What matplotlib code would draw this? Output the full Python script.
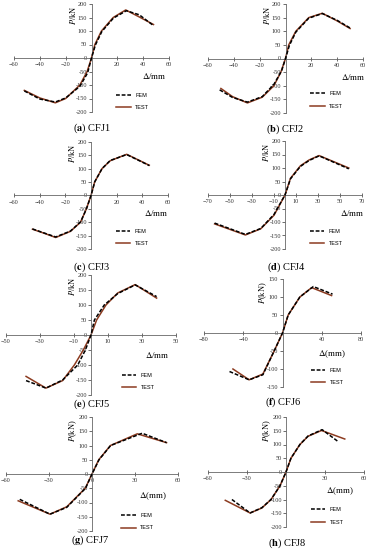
import matplotlib.pyplot as plt

plt.rcParams['font.family'] = 'Liberation Serif'
plt.rcParams['mathtext.fontset'] = 'stix'

# skeleton curves: displacement (mm), load (kN)
cfj1_test_x = [-52, -40, -28, -20, -9, -3.4, 0, 2.6, 7.7, 16.8, 26.5, 37, 48]
cfj1_test_y = [-120, -148, -166, -150, -100, -50, 0, 50, 100, 150, 178, 152, 124]
cfj1_fem_x = [-52, -40, -28, -20, -9, -3, 0, 3, 8, 17, 27, 37, 48]
cfj1_fem_y = [-122, -152, -163, -148, -105, -55, 0, 48, 98, 148, 175, 160, 120]

cfj2_test_x = [-50, -41, -29.5, -18, -9, -3.6, 0, 2.5, 8, 18, 28.5, 40, 50]
cfj2_test_y = [-110, -140, -163, -142, -100, -50, 0, 50, 100, 150, 166, 138, 110]
cfj2_fem_x = [-51, -41, -29.5, -18, -9, -3, 0, 3, 8, 18, 28.5, 40, 50]
cfj2_fem_y = [-115, -143, -160, -140, -95, -45, 0, 48, 97, 148, 165, 140, 112]

cfj3_test_x = [-45.6, -36, -27.5, -16, -8.2, -3.6, 0, 2.8, 8.5, 15, 27.8, 36, 45.4]
cfj3_test_y = [-126, -142, -157, -134, -100, -50, 0, 50, 100, 130, 154, 135, 113]
cfj3_fem_x = [-45.6, -36, -27.5, -16, -8, -3.4, 0, 3, 8.7, 15, 27.8, 36, 45.4]
cfj3_fem_y = [-125, -141, -155, -133, -98, -48, 0, 52, 101, 131, 153, 134, 112]

cfj4_test_x = [-64, -36, -22, -10, 0, 5, 14, 22, 31, 58]
cfj4_test_y = [-107, -148, -125, -75, 0, 62, 108, 130, 146, 100]
cfj4_fem_x = [-64, -36, -22, -10, 0, 5, 14, 22, 31, 58]
cfj4_fem_y = [-104, -146, -124, -72, 0, 60, 106, 128, 145, 97]

cfj5_test_x = [-38.2, -26.5, -16.7, -9.8, -4.5, 0, 3.3, 8.8, 15.7, 26, 38.6]
cfj5_test_y = [-138, -177, -152, -100, -50, 0, 50, 100, 140, 168, 123]
cfj5_fem_x = [-38.2, -26.5, -16.7, -7.8, -3.3, 0, 2, 4.9, 7.8, 15.7, 26, 38.6]
cfj5_fem_y = [-152, -177, -150, -100, -50, 0, 50, 75, 100, 138, 167, 128]

cfj6_test_x = [-50.5, -34, -20, -8.5, 0, 5.8, 17.7, 29.7, 50]
cfj6_test_y = [-100, -130, -114, -50, 0, 50, 100, 126, 104]
cfj6_fem_x = [-54, -34, -20, -8.5, 0, 5.8, 17.7, 31.4, 51]
cfj6_fem_y = [-107, -130, -116, -50, 0, 50, 100, 129, 108]

cfj7_test_x = [-51.5, -29.3, -17.6, -4.7, 0, 4.7, 12.9, 31.6, 52]
cfj7_test_y = [-94, -141, -115, -50, 0, 50, 100, 141, 110]
cfj7_fem_x = [-50.4, -29.3, -17.6, -4.5, 0, 4.9, 13, 35, 52]
cfj7_fem_y = [-89, -141, -117, -50, 0, 50, 100, 143, 110]

cfj8_test_x = [-46.7, -27.6, -18.6, -11.5, -4.6, 0, 3.8, 10.7, 17, 27.3, 45.2]
cfj8_test_y = [-103, -149, -131, -100, -50, 0, 50, 100, 130, 151, 120]
cfj8_fem_x = [-41.6, -27.6, -18.6, -11.5, -4.6, 0, 3.8, 10.7, 17, 27.8, 40]
cfj8_fem_y = [-100, -149, -130, -100, -50, 0, 50, 100, 131, 154, 111]

captions = ['a', 'b', 'c', 'd', 'e', 'f', 'g', 'h']
names = ['CFJ1', 'CFJ2', 'CFJ3', 'CFJ4', 'CFJ5', 'CFJ6', 'CFJ7', 'CFJ8']
xticks = [[-60, -40, -20, 20, 40, 60]] * 3 + [[-70, -50, -30, -10, 10, 30, 50, 70]] + \
         [[-50, -30, -10, 10, 30, 50], [-80, -40, 40, 80], [-60, -30, 0, 30, 60], [-60, -30, 30, 60]]
yticks = [list(range(-200, 201, 50))] * 5 + [list(range(-150, 151, 50))] + [list(range(-200, 201, 50))] * 2

tests = [(cfj1_test_x, cfj1_test_y), (cfj2_test_x, cfj2_test_y), (cfj3_test_x, cfj3_test_y),
         (cfj4_test_x, cfj4_test_y), (cfj5_test_x, cfj5_test_y), (cfj6_test_x, cfj6_test_y),
         (cfj7_test_x, cfj7_test_y), (cfj8_test_x, cfj8_test_y)]
fems = [(cfj1_fem_x, cfj1_fem_y), (cfj2_fem_x, cfj2_fem_y), (cfj3_fem_x, cfj3_fem_y),
        (cfj4_fem_x, cfj4_fem_y), (cfj5_fem_x, cfj5_fem_y), (cfj6_fem_x, cfj6_fem_y),
        (cfj7_fem_x, cfj7_fem_y), (cfj8_fem_x, cfj8_fem_y)]

W, H = 370, 550
# axes boxes in pixels: left, right, top, bottom
boxes = [(14, 169, 4, 112), (208, 363, 4, 113), (14, 168, 142, 249), (208, 362, 141, 249),
         (6, 176, 275, 395), (204, 361, 279, 387), (6, 178, 417, 531), (208, 364, 417, 527)]
cap_pos = [(92, 128), (285, 129), (92, 267), (287, 267), (92, 404), (283, 402), (90, 540), (287, 543)]
xlab_off = [(-15, -18), (-10, -18), (-12, -18), (-10, -18), (-19, -20), (-29, -21), (-25, -22), (-24, -19)]
ylab_off = [-19] * 8
leg_pos = [(0.66, 0.1), (0.66, 0.12), (0.66, 0.11), (0.66, 0.11), (0.68, 0.11), (0.68, 0.1), (0.67, 0.08), (0.66, 0.1)]

fig = plt.figure(figsize=(W / 100, H / 100), dpi=100)

for i in range(8):
    l, r, t, b = boxes[i]
    ax = fig.add_axes([l / W, 1 - b / H, (r - l) / W, (b - t) / H])
    ax.plot(fems[i][0], fems[i][1], color='black', ls=(0, (2.5, 1.2)), lw=1.1, label='FEM', zorder=3)
    ax.plot(tests[i][0], tests[i][1], color='#8c3b20', lw=1.1, label='TEST', zorder=2)

    xt = xticks[i]
    ax.set_xlim(min(xt), max(xt))
    ax.set_ylim(min(yticks[i]), max(yticks[i]))
    ax.set_xticks(xt)
    ax.set_yticks(yticks[i])
    ax.set_yticklabels([str(v) for v in yticks[i]])

    for s in ['top', 'right']:
        ax.spines[s].set_visible(False)
    ax.spines['left'].set_position(('data', 0))
    ax.spines['bottom'].set_position(('data', 0))
    for s in ['left', 'bottom']:
        ax.spines[s].set_color('#666666')
        ax.spines[s].set_linewidth(0.6)
    ax.tick_params(axis='x', direction='inout', length=3, width=0.5, pad=1.5,
                   labelsize=4.5, colors='#333333')
    ax.tick_params(axis='y', direction='out', length=2, width=0.5, pad=1,
                   labelsize=4.5, colors='#333333')
    ax.patch.set_alpha(0)

    if i < 5:
        ylab, xlab = '$P$/kN', '$\\mathit{\\Delta}$/mm'
    else:
        ylab, xlab = '$P$(kN)', '$\\mathit{\\Delta}$(mm)'
    ax.annotate(ylab, xy=(0, 1), xycoords=('data', 'axes fraction'), xytext=(ylab_off[i], -2),
                textcoords='offset pixels', rotation=90, ha='center', va='top', fontsize=6)
    ax.annotate(xlab, xy=(1, 0), xycoords=('axes fraction', 'data'), xytext=xlab_off[i],
                textcoords='offset pixels', ha='center', va='center', fontsize=6.5)

    leg = ax.legend(loc='center left', bbox_to_anchor=leg_pos[i], frameon=False,
                    prop={'family': 'Liberation Sans', 'size': 4}, handlelength=2.6,
                    handletextpad=0.8, labelspacing=1.3, borderpad=0, borderaxespad=0)

    cx, cy = cap_pos[i]
    fig.text(cx / W, 1 - cy / H, '($\\mathbf{%s}$) %s' % (captions[i], names[i]),
             ha='center', va='center', fontsize=7.5)

fig.savefig('out.png', dpi=100)
